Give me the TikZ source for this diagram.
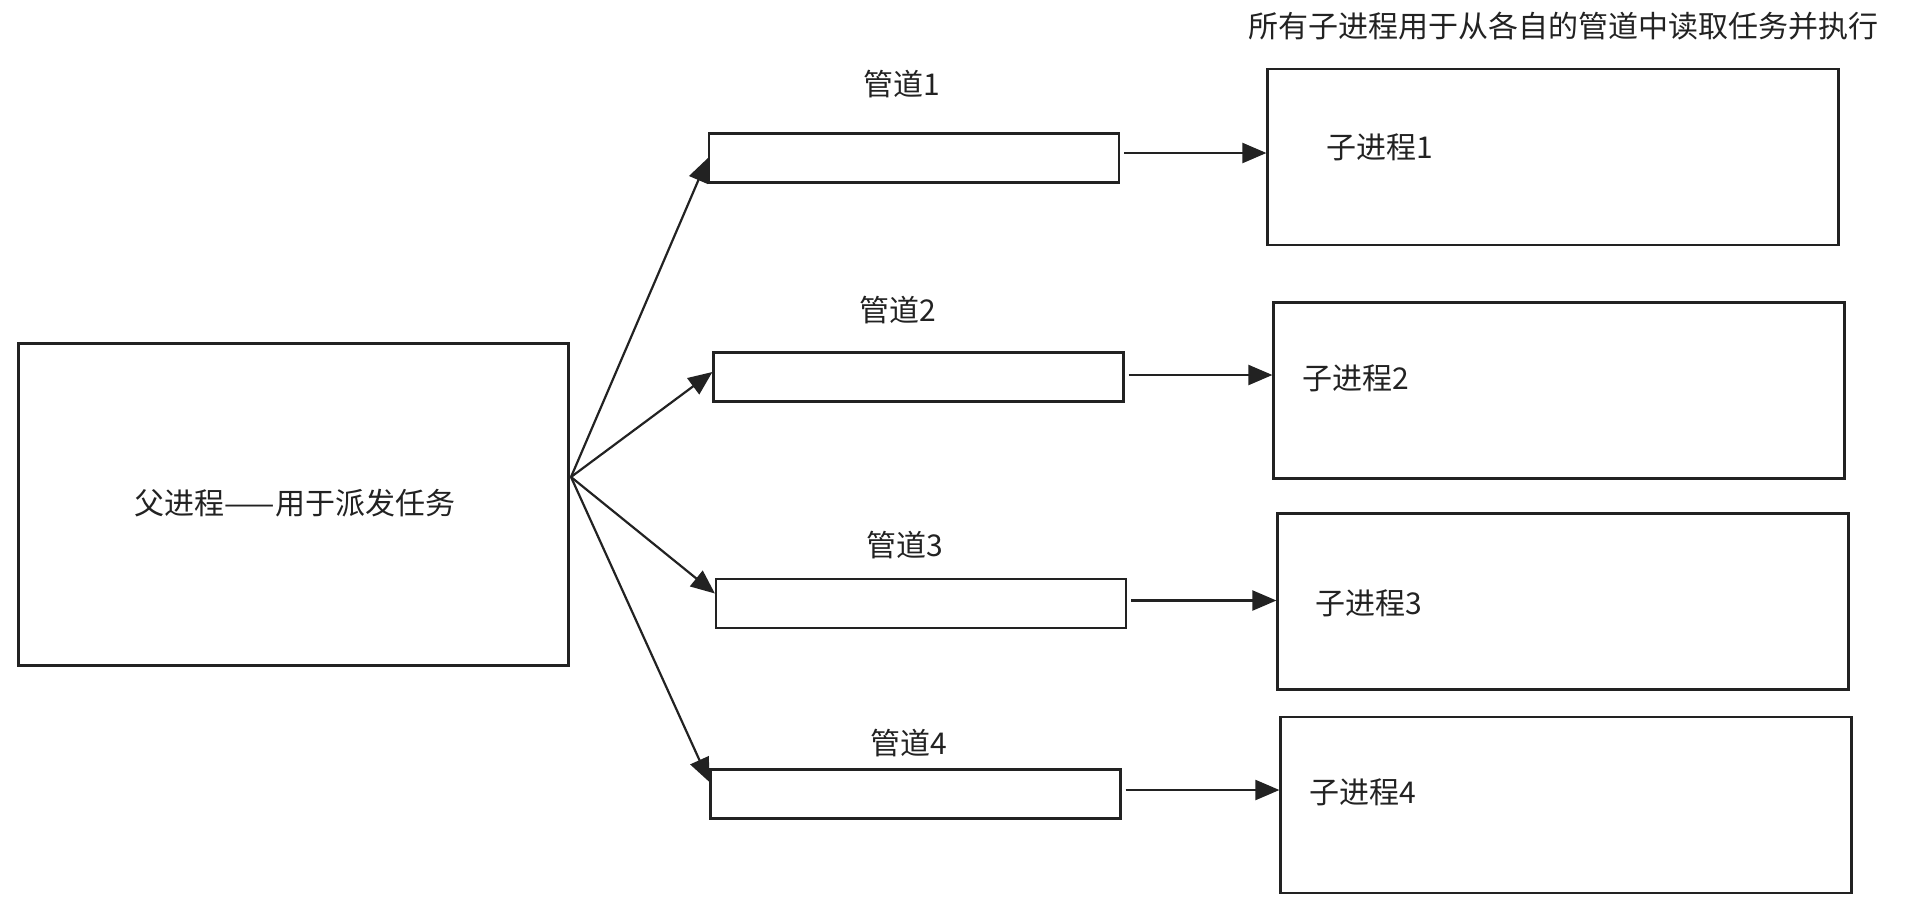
\documentclass[tikz,border=0pt]{standalone}
\usepackage{fontspec}
\setmainfont{Noto Sans CJK SC}
\usetikzlibrary{arrows.meta}
\definecolor{ink}{HTML}{222222}
\tikzset{
	procbox/.style={draw=ink, line width=1.1pt, inner sep=0pt, minimum width=285.5pt, minimum height=88pt},
	pipebox/.style={draw=ink, line width=1.1pt, inner sep=0pt, minimum width=205pt, minimum height=24.5pt},
	lbl/.style={font=\fontsize{15}{18}\selectfont, text=ink, inner sep=0pt},
	arr/.style={draw=ink, line width=1.1pt, -{Triangle[length=12pt,width=10pt]}}
}
\begin{document}
\begin{tikzpicture}[x=0.5pt, y=-0.5pt]
		\useasboundingbox (0,0) rectangle (1925,911);
		
		% parent
		\node[draw=ink, line width=1.1pt, inner sep=0pt, minimum width=275pt, minimum height=161pt] (parent) at (293.5,504.5) {};
		\node[lbl] (parenttext) at (295,503) {父进程——用于派发任务};
		\coordinate (fan) at (571,477);
		
		% pipes
		\node[pipebox] (p1) at (914,158) {};
		\node[pipebox] (p2) at (918.5,377) {};
		\node[pipebox] (p3) at (921,603.5) {};
		\node[pipebox] (p4) at (915.5,794) {};
		\node[lbl] (p1text) at (902,84) {管道1};
		\node[lbl] (p2text) at (898,310) {管道2};
		\node[lbl] (p3text) at (905,545) {管道3};
		\node[lbl] (p4text) at (909,743) {管道4};
		
		% children
		\node[procbox] (c1) at (1553,157) {};
		\node[procbox] (c2) at (1559,390.5) {};
		\node[procbox] (c3) at (1563,601.5) {};
		\node[procbox] (c4) at (1566,805) {};
		\node[lbl] (c1text) at (1380,147) {子进程1};
		\node[lbl] (c2text) at (1356,378) {子进程2};
		\node[lbl] (c3text) at (1369,603) {子进程3};
		\node[lbl] (c4text) at (1363,792) {子进程4};
		\node[lbl] (title) at (1563,26) {所有子进程用于从各自的管道中读取任务并执行};
		
		% arrows
		\draw[arr] (fan) -- (p1.west);
		\draw[arr] (fan) -- ([yshift=2.5pt]p2.west);
		\draw[arr] (fan) -- ([yshift=5pt]p3.west);
		\draw[arr] (fan) -- ([yshift=6pt]p4.west);
		\foreach \i/\dy in {1/2.5,2/1,3/1.5,4/2}
			\draw[arr, shorten <=2pt] ([yshift=\dy pt]p\i.east) -- ([yshift=\dy pt]p\i.east -| c\i.west);
		
\end{tikzpicture}
\end{document}
